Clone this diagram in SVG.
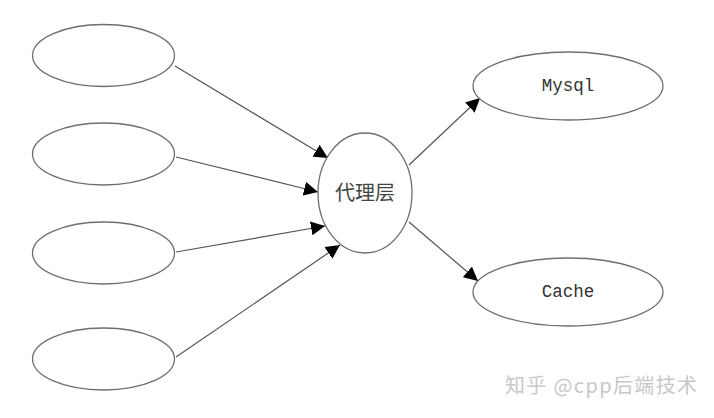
<svg xmlns="http://www.w3.org/2000/svg" width="714" height="418" viewBox="0 0 714 418">
<style>
.n{fill:#fff;stroke:#6e6e6e;stroke-width:1.3}
.e{stroke:#555;stroke-width:1.2;fill:none}
.t{font-family:"Liberation Mono",monospace;font-size:17.5px;fill:#333;text-anchor:middle}
.c{font-family:"Noto Sans CJK SC",sans-serif;font-size:20px;fill:#444;text-anchor:middle}
.w{font-family:"Noto Sans CJK SC","Liberation Sans",sans-serif;font-size:20px;fill:#c8c8c8}
</style>
<defs>
<marker id="a" viewBox="0 0 10 10" refX="10" refY="5" markerWidth="14" markerHeight="14" markerUnits="userSpaceOnUse" orient="auto">
<path d="M0,0L10,5L0,10z" fill="#000"/>
</marker>
</defs>
<rect width="714" height="418" fill="#fff"/>
<g id="connectors">
<line class="e" x1="175" y1="66" x2="328" y2="158" marker-end="url(#a)"/>
<line class="e" x1="176" y1="157" x2="318" y2="192" marker-end="url(#a)"/>
<line class="e" x1="176" y1="252" x2="325" y2="226" marker-end="url(#a)"/>
<line class="e" x1="176" y1="357" x2="340" y2="245" marker-end="url(#a)"/>
<line class="e" x1="409" y1="165" x2="480" y2="98" marker-end="url(#a)"/>
<line class="e" x1="409" y1="222" x2="478" y2="281" marker-end="url(#a)"/>
</g>
<g id="n1"><ellipse class="n" cx="103.5" cy="55.5" rx="71" ry="31"/></g>
<g id="n2"><ellipse class="n" cx="103.5" cy="154" rx="71" ry="31"/></g>
<g id="n3"><ellipse class="n" cx="103.5" cy="253" rx="71" ry="31"/></g>
<g id="n4"><ellipse class="n" cx="103.5" cy="359" rx="71" ry="31"/></g>
<g id="proxy"><ellipse class="n" cx="365" cy="193" rx="47" ry="60"/><text class="c" x="365" y="200">代理层</text></g>
<g id="mysql"><ellipse class="n" cx="568" cy="86" rx="95" ry="34"/><text class="t" x="568" y="91">Mysql</text></g>
<g id="cache"><ellipse class="n" cx="568" cy="292" rx="95" ry="34"/><text class="t" x="568" y="297">Cache</text></g>
<text class="w" x="505" y="393" textLength="192">知乎 @cpp后端技术</text>
</svg>
